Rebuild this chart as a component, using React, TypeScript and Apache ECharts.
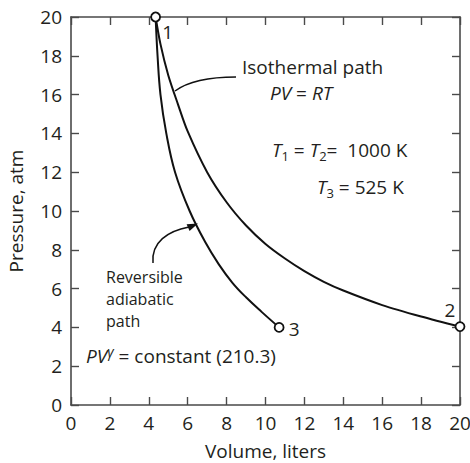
import React, { useEffect, useRef } from "react";
import * as echarts from "echarts";

// Axis ticks (volume in liters, pressure in atm)
const volumeTicks = [0, 2, 4, 6, 8, 10, 12, 14, 16, 18, 20];
const pressureTicks = [0, 2, 4, 6, 8, 10, 12, 14, 16, 18, 20];

// Isothermal path 1 -> 2
const isoVolume = [4.35, 4.6, 5.0, 5.5, 6.0, 7.0, 8.0, 9.0, 10.0, 11.0, 12.0, 13.0, 14.0, 16.0, 18.0, 20.0];
const isoPressure = [20, 18.6, 17.0, 15.5, 14.1, 12.0, 10.45, 9.25, 8.3, 7.55, 6.9, 6.35, 5.9, 5.15, 4.56, 4.04];

// Reversible adiabatic path 1 -> 3
const adiVolume = [4.35, 4.45, 4.6, 4.9, 5.35, 6.1, 6.9, 7.6, 8.3, 9.0, 9.8, 10.7];
const adiPressure = [20, 18, 16, 14, 12, 10, 8.4, 7.25, 6.3, 5.55, 4.8, 4.0];

// State points
const stateNames = ["1", "2", "3"];
const stateVolume = [4.35, 20, 10.7];
const statePressure = [20, 4.04, 4.0];

// Annotation lines
const adiabaticNote = ["Reversible", "adiabatic", "path"];

const FONT = "Open Sans";
const TXT = "#231f20";
const AXIS = "#4a4a4a";

export default function App() {
  const ref = useRef<HTMLDivElement>(null);

  useEffect(() => {
    document.body.style.margin = "0";
    const chart = echarts.init(ref.current!, null, { renderer: "svg" });

    const labelOffsets = [
      [12, 15],
      [-10, -17],
      [15, 2],
    ];

    const axisLine = { show: true, onZero: false, lineStyle: { color: AXIS, width: 1.6 } };
    const axisTick = { show: true, inside: true, length: 8, lineStyle: { color: AXIS, width: 1.4 } };
    const labelStyle = { fontFamily: FONT, fontSize: 19, color: TXT };

    const xMin = volumeTicks[0];
    const xMax = volumeTicks[volumeTicks.length - 1];
    const xInt = volumeTicks[1] - volumeTicks[0];
    const yMin = pressureTicks[0];
    const yMax = pressureTicks[pressureTicks.length - 1];
    const yInt = pressureTicks[1] - pressureTicks[0];

    const richBase = {
      i: { fontStyle: "italic", fontFamily: FONT, fontSize: 19, lineHeight: 24, fill: TXT },
      n: { fontFamily: FONT, fontSize: 19, lineHeight: 24, fill: TXT },
      s: { fontFamily: FONT, fontSize: 13, lineHeight: 10, verticalAlign: "bottom", fill: TXT },
      g: { fontStyle: "italic", fontFamily: FONT, fontSize: 14, lineHeight: 12, verticalAlign: "top", fill: TXT },
    };

    const option: any = {
      animation: false,
      grid: { left: 71, right: 10, top: 17, bottom: 58, outerBoundsMode: "none", containLabel: false },
      xAxis: [
        {
          type: "value",
          position: "bottom",
          min: xMin,
          max: xMax,
          interval: xInt,
          axisLine,
          axisTick,
          splitLine: { show: false },
          axisLabel: { ...labelStyle, margin: 8 },
          name: "Volume, liters",
          nameLocation: "middle",
          nameGap: 36,
          nameTextStyle: { ...labelStyle },
        },
        {
          type: "value",
          position: "top",
          min: xMin,
          max: xMax,
          interval: xInt,
          axisLine,
          axisTick,
          splitLine: { show: false },
          axisLabel: { show: false },
        },
      ],
      yAxis: [
        {
          type: "value",
          position: "left",
          min: yMin,
          max: yMax,
          interval: yInt,
          axisLine,
          axisTick,
          splitLine: { show: false },
          axisLabel: { ...labelStyle, margin: 9 },
          name: "Pressure, atm",
          nameLocation: "middle",
          nameGap: 46,
          nameRotate: 90,
          nameTextStyle: { ...labelStyle },
        },
        {
          type: "value",
          position: "right",
          min: yMin,
          max: yMax,
          interval: yInt,
          axisLine,
          axisTick,
          splitLine: { show: false },
          axisLabel: { show: false },
        },
      ],
      series: [
        {
          type: "line",
          name: "Isothermal path",
          data: isoVolume.map((v, i) => [v, isoPressure[i]]),
          smooth: 0.3,
          showSymbol: false,
          clip: false,
          lineStyle: { color: "#111", width: 2 },
        },
        {
          type: "line",
          name: "Reversible adiabatic path",
          data: adiVolume.map((v, i) => [v, adiPressure[i]]),
          smooth: 0.4,
          showSymbol: false,
          clip: false,
          lineStyle: { color: "#111", width: 2 },
        },
        {
          type: "scatter",
          name: "States",
          clip: false,
          z: 5,
          symbol: "circle",
          symbolSize: 9,
          itemStyle: { color: "#fff", borderColor: "#111", borderWidth: 1.8, opacity: 1 },
          label: {
            show: true,
            position: "inside",
            formatter: (p: any) => p.name,
            ...labelStyle,
          },
          data: stateVolume.map((v, i) => ({
            name: stateNames[i],
            value: [v, statePressure[i]],
            label: { offset: labelOffsets[i] },
          })),
        },
      ],
      graphic: [
        // Isothermal leader
        {
          type: "bezierCurve",
          shape: { x1: 175, y1: 91, cpx1: 190, cpy1: 80, cpx2: 212, cpy2: 77, x2: 236, y2: 77 },
          style: { stroke: "#111", lineWidth: 1.5, fill: null },
        },
        {
          type: "text",
          x: 242,
          y: 67,
          style: { text: "Isothermal path", fontFamily: FONT, fontSize: 19, fill: TXT, textAlign: "left", textVerticalAlign: "middle" },
        },
        {
          type: "text",
          x: 270,
          y: 93,
          style: {
            text: "{i|PV} = {i|RT}",
            fontFamily: FONT,
            fontSize: 19,
            fill: TXT,
            textAlign: "left",
            textVerticalAlign: "middle",
            rich: richBase,
          },
        },
        {
          type: "text",
          x: 272,
          y: 150,
          style: {
            text: "{i|T}{s|1}{n| = }{i|T}{s|2}{n|=  1000 K}",
            fontFamily: FONT,
            fontSize: 19,
            fill: TXT,
            textAlign: "left",
            textVerticalAlign: "middle",
            rich: richBase,
          },
        },
        {
          type: "text",
          x: 317,
          y: 187,
          style: {
            text: "{i|T}{s|3}{n| = 525 K}",
            fontFamily: FONT,
            fontSize: 19,
            fill: TXT,
            textAlign: "left",
            textVerticalAlign: "middle",
            rich: richBase,
          },
        },
        // Adiabatic leader arrow
        {
          type: "bezierCurve",
          shape: { x1: 153, y1: 263, cpx1: 151, cpy1: 242, cpx2: 168, cpy2: 231, x2: 189, y2: 227 },
          style: { stroke: "#111", lineWidth: 1.5, fill: null },
        },
        {
          type: "polygon",
          shape: { points: [[198, 223.5], [186.6, 224.2], [189.6, 231]] },
          style: { fill: "#111" },
        },
        ...adiabaticNote.map((t, k) => ({
          type: "text",
          x: 106,
          y: 277 + k * 22,
          style: {
            text: t,
            fontFamily: FONT,
            fontSize: 16,
            lineHeight: 20,
            fill: TXT,
            textAlign: "left",
            textVerticalAlign: "middle",
          },
        })),
        {
          type: "text",
          x: 86,
          y: 356,
          style: {
            text: "{i|PV}{g|γ}{n| = constant (210.3)}",
            fontFamily: FONT,
            fontSize: 19,
            fill: TXT,
            textAlign: "left",
            textVerticalAlign: "middle",
            rich: richBase,
          },
        },
      ],
    };

    chart.setOption(option);
    return () => chart.dispose();
  }, []);

  return <div ref={ref} style={{ width: 470, height: 463 }} />;
}
